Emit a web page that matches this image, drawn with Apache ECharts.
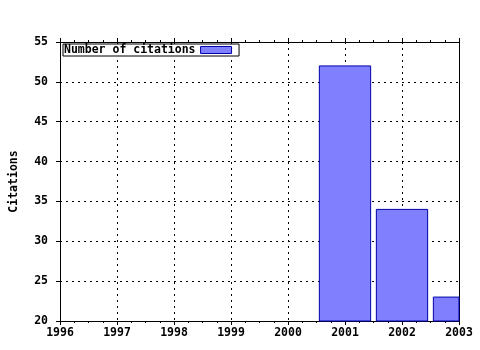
<!DOCTYPE html>
<html><head><meta charset="utf-8">
<script src="https://cdn.jsdelivr.net/npm/echarts@6/dist/echarts.min.js"></script>
<style>html,body{margin:0;padding:0;background:#fff}#c{width:480px;height:350px}</style>
</head><body><div id="c"></div>
<script>
var years = [2001, 2002, 2003];
var citations = [52, 34, 23];
var xMin = 1996, xMax = 2003;
var yMin = 20, yMax = 55, yStep = 5;
var seriesName = 'Number of citations';
var yTitle = 'Citations';

var font = 'DejaVu Sans Mono';
var chart = echarts.init(document.getElementById('c'), null, {renderer: 'canvas'});
var lbl = {fontFamily: font, fontWeight: 'bold', fontSize: 11.5, color: '#000'};
var barFill = '#8080ff', barEdge = '#0000aa';
chart.setOption({
  animation: false,
  grid: {left: 57, right: 21, top: 42, bottom: 29, containLabel: false},
  legend: {
    left: 63, top: 44, orient: 'horizontal', align: 'right',
    backgroundColor: '#fff', borderColor: '#000', borderWidth: 1, borderRadius: 0,
    padding: [0, 7, 0, 1], itemWidth: 31, itemHeight: 7, itemGap: 0,
    textStyle: lbl,
    data: [{name: seriesName, icon: 'rect', itemStyle: {color: barFill, borderColor: barEdge, borderWidth: 1}}]
  },
  xAxis: [{
    type: 'value', min: xMin, max: xMax, interval: 1, position: 'bottom',
    axisLine: {show: true, lineStyle: {color: '#000', width: 1}},
    axisTick: {show: true, length: 4, lineStyle: {color: '#000'}},
    minorTick: {show: true, splitNumber: 4, length: 2, lineStyle: {color: '#000'}},
    axisLabel: Object.assign({margin: 6, formatter: function(v){return String(v);}}, lbl),
    splitLine: {show: true, lineStyle: {color: '#000', type: [2, 4], width: 1}}
  }, {
    type: 'value', min: xMin, max: xMax, interval: 1, position: 'top',
    axisLine: {show: true, lineStyle: {color: '#000', width: 1}},
    axisTick: {show: true, length: 4, lineStyle: {color: '#000'}},
    minorTick: {show: true, splitNumber: 4, length: 2, lineStyle: {color: '#000'}},
    axisLabel: {show: false}, splitLine: {show: false}
  }],
  yAxis: [{
    type: 'value', min: yMin, max: yMax, interval: yStep, position: 'left',
    name: yTitle, nameLocation: 'middle', nameGap: 40, nameRotate: 90,
    nameTextStyle: lbl,
    axisLine: {show: true, lineStyle: {color: '#000', width: 1}},
    axisTick: {show: true, length: 4, lineStyle: {color: '#000'}},
    axisLabel: Object.assign({margin: 12}, lbl),
    splitLine: {show: true, lineStyle: {color: '#000', type: [2, 4], width: 1}}
  }, {
    type: 'value', min: yMin, max: yMax, interval: yStep, position: 'right',
    axisLine: {show: true, lineStyle: {color: '#000', width: 1}},
    axisTick: {show: false}, axisLabel: {show: false}, splitLine: {show: false}
  }],
  series: [{
    name: seriesName, type: 'custom', xAxisIndex: 0, yAxisIndex: 0,
    encode: {x: 0, y: 1},
    itemStyle: {color: barFill, borderColor: barEdge, borderWidth: 1},
    renderItem: function(params, api) {
      var top = api.coord([api.value(0), api.value(1)]);
      var base = api.coord([api.value(0), yMin]);
      var w = api.size([0.9, 0])[0];
      var cs = params.coordSys;
      var r = echarts.graphic.clipRectByRect(
        {x: top[0] - w / 2, y: top[1], width: w, height: base[1] - top[1]},
        {x: cs.x, y: cs.y, width: cs.width, height: cs.height});
      if (!r) return null;
      return {type: 'rect', shape: r, style: api.style({fill: barFill, stroke: barEdge, lineWidth: 1})};
    },
    data: years.map(function(y, i){ return [y, citations[i]]; })
  }]
});
</script></body></html>
